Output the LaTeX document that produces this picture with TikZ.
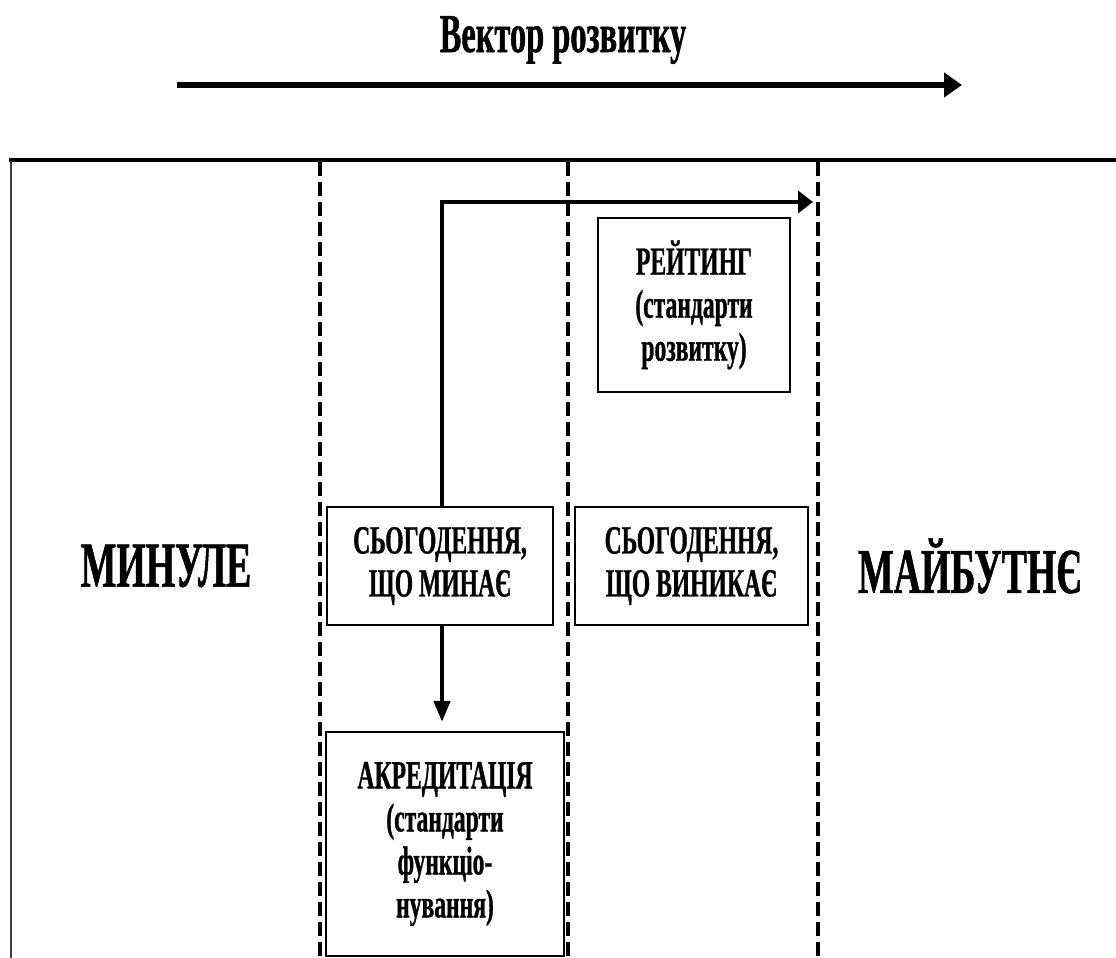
\documentclass[tikz,border=0pt]{standalone}
\usepackage{fontspec}
\setmainfont{Liberation Serif}[FakeStretch=0.59, BoldFeatures={FakeBold=0.8}]
\usetikzlibrary{arrows.meta}
\begin{document}
\begin{tikzpicture}[x=1pt,y=-1pt,
  box/.style={draw, line width=2.2pt, align=center, inner sep=0pt,
    font=\fontsize{40}{43}\selectfont\bfseries},
  side/.style={font=\fontsize{64}{70}\selectfont\bfseries, inner sep=0pt},
  title/.style={font=\fontsize{55}{60}\selectfont\bfseries, inner sep=0pt},
  divider/.style={line width=3.3pt, dash pattern=on 14pt off 6pt},
  flow/.style={line width=4.5pt},
]
\useasboundingbox (0,0) rectangle (1116,958);

% title and vector arrow
\node[title] (ttl) at (563,40) {Вектор розвитку};
\coordinate (vs) at (177,85);
\coordinate (ve) at (962,85);
\draw[line width=6.5pt, -{Triangle[length=18pt,width=24pt]}] (vs) -- (ve);

% frame
\draw[line width=4.5pt] (9,160) -- (1116,160);
\draw[line width=1.5pt, black!75] (11,161) -- (11,958);
\draw[divider] (320,162) -- (320,958);
\draw[divider] (568,162) -- (568,958);
\draw[divider] (818,162) -- (818,958);

% side labels
\node[side] (past) at (166,566) {МИНУЛЕ};
\node[side] (fut) at (970,566) {МАЙБУТНЄ};

% boxes
\node[box, minimum width=226pt, minimum height=118pt] (pass) at (440,566)
  {СЬОГОДЕННЯ,\\ЩО МИНАЄ};
\node[box, minimum width=233pt, minimum height=118pt] (emer) at (691.5,566)
  {СЬОГОДЕННЯ,\\ЩО ВИНИКАЄ};
\node[box, minimum width=192pt, minimum height=174pt] (rate) at (694,305)
  {РЕЙТИНГ\\(стандарти\\розвитку)};
\node[box, minimum width=238pt, minimum height=224pt] (accr) at (445,844)
  {АКРЕДИТАЦІЯ\\(стандарти\\функціо-\\нування)};

% connectors
\coordinate (rtip) at (813,202);
\draw[flow, -{Triangle[length=15pt,width=22pt]}] ([xshift=2pt]pass.north) |- (rtip);
\draw[flow, -{Triangle[length=21pt,width=16pt]}, shorten >=9pt]
  ([xshift=2pt]pass.south) -- ([xshift=2pt]pass.south |- accr.north);
\end{tikzpicture}
\end{document}
